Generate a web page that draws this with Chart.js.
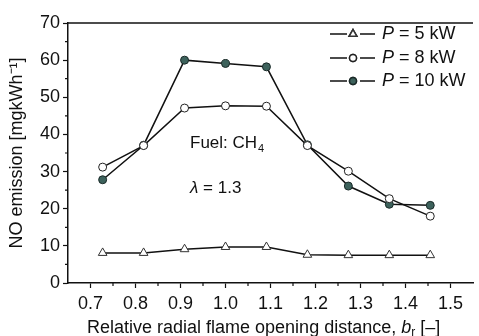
<!DOCTYPE html>
<html>
<head>
<meta charset="utf-8">
<script src="https://cdn.jsdelivr.net/npm/chart.js@4"></script>
<style>
  html, body { margin: 0; padding: 0; background: #fff; }
  #wrap { width: 479px; height: 336px; }
</style>
</head>
<body>
<div id="wrap"><canvas id="noChart"></canvas></div>
<script>
"use strict";

// Relative radial flame opening distance b_r (x values)
const radialDistance = [0.727, 0.818, 0.909, 1.0, 1.091, 1.182, 1.273, 1.364, 1.455];

// NO emission [mg/kWh] per burner power
const noP5 = [8.1, 8.1, 9.1, 9.7, 9.7, 7.6, 7.5, 7.5, 7.5];
const noP8 = [31.2, 37.0, 47.1, 47.7, 47.6, 37.0, 30.1, 22.7, 18.0];
const noP10 = [27.8, 37.1, 60.0, 59.1, 58.2, 37.2, 26.1, 21.2, 20.9];

const seriesLabels = ['5 kW', '8 kW', '10 kW'];
const xTicks = [0.7, 0.8, 0.9, 1.0, 1.1, 1.2, 1.3, 1.4, 1.5];
const xMinorTicks = [0.75, 0.85, 0.95, 1.05, 1.15, 1.25, 1.35, 1.45];
const yMinorTicks = [5, 15, 25, 35, 45, 55, 65];

const FONT = "'Liberation Sans', Arial, sans-serif";
const INK = '#111';
const TEAL = '#3d625c';

function toPoints(values) {
    return values.map(function (v, i) {
        return { x: radialDistance[i], y: v };
    });
}

// Legend, annotations, x title, minor ticks and the top frame line
const extrasPlugin = {
    id: 'extras',
    afterDraw(chart) {
        const ctx = chart.ctx;
        const area = chart.chartArea;
        const xs = chart.scales.x;
        const ys = chart.scales.y;
        ctx.save();

        // top frame line
        ctx.strokeStyle = INK;
        ctx.lineWidth = 1.5;
        ctx.beginPath();
        ctx.moveTo(area.left, area.top);
        ctx.lineTo(area.right, area.top);
        ctx.stroke();

        // minor ticks
        ctx.lineWidth = 1.2;
        ctx.beginPath();
        xMinorTicks.forEach(function (v) {
            const px = xs.getPixelForValue(v);
            ctx.moveTo(px, area.bottom);
            ctx.lineTo(px, area.bottom + 3);
        });
        yMinorTicks.forEach(function (v) {
            const py = ys.getPixelForValue(v);
            ctx.moveTo(area.left, py);
            ctx.lineTo(area.left - 3, py);
        });
        ctx.stroke();

        // legend
        const rows = [34, 58, 81];
        chart.data.datasets.forEach(function (ds, i) {
            const y = rows[i];
            ctx.strokeStyle = INK;
            ctx.lineWidth = 1.5;
            ctx.beginPath();
            ctx.moveTo(330, y);
            ctx.lineTo(347, y);
            ctx.moveTo(360, y);
            ctx.lineTo(375, y);
            ctx.stroke();
            Chart.helpers.drawPoint(ctx, {
                pointStyle: ds.pointStyle,
                radius: ds.pointStyle === 'triangle' ? 4.5 : 3.5,
                borderWidth: 1
            }, 353, y);
            ctx.fillStyle = ds.pointBackgroundColor;
            ctx.strokeStyle = ds.pointBorderColor;
            ctx.fill();
            ctx.stroke();

            ctx.fillStyle = INK;
            ctx.textBaseline = 'middle';
            ctx.font = 'italic 18px ' + FONT;
            ctx.fillText('P', 382, y);
            const pw = ctx.measureText('P').width;
            ctx.font = '18px ' + FONT;
            ctx.fillText(' = ' + seriesLabels[i], 382 + pw, y);
        });

        // annotations
        ctx.fillStyle = INK;
        ctx.textBaseline = 'middle';
        ctx.font = '17px ' + FONT;
        ctx.fillText('Fuel: CH', 190, 143);
        const fw = ctx.measureText('Fuel: CH').width;
        ctx.font = '11px ' + FONT;
        ctx.fillText('4', 190 + fw + 1, 149);
        ctx.font = 'italic 17px ' + FONT;
        ctx.fillText('λ', 190, 188);
        const lw = ctx.measureText('λ').width;
        ctx.font = '17px ' + FONT;
        ctx.fillText(' = 1.3', 190 + lw, 188);

        // x axis title
        let x = 87;
        const ty = 328;
        ctx.font = '18px ' + FONT;
        const part1 = 'Relative radial flame opening distance, ';
        ctx.fillText(part1, x, ty);
        x += ctx.measureText(part1).width;
        ctx.font = 'italic 18px ' + FONT;
        ctx.fillText('b', x, ty);
        x += ctx.measureText('b').width;
        ctx.font = '12px ' + FONT;
        ctx.fillText('r', x, ty + 5);
        x += ctx.measureText('r').width;
        ctx.font = '18px ' + FONT;
        ctx.fillText(' [–]', x, ty);

        ctx.restore();
    }
};

new Chart(document.getElementById('noChart'), {
    type: 'line',
    data: {
        datasets: [
            {
                label: 'P = ' + seriesLabels[0],
                data: toPoints(noP5),
                borderColor: INK,
                borderWidth: 1.5,
                pointStyle: 'triangle',
                pointRadius: 5,
                pointBorderWidth: 1,
                pointBackgroundColor: '#fff',
                pointBorderColor: '#333'
            },
            {
                label: 'P = ' + seriesLabels[1],
                data: toPoints(noP8),
                borderColor: INK,
                borderWidth: 1.5,
                pointStyle: 'circle',
                pointRadius: 4,
                pointBorderWidth: 1,
                pointBackgroundColor: '#fff',
                pointBorderColor: '#222'
            },
            {
                label: 'P = ' + seriesLabels[2],
                data: toPoints(noP10),
                borderColor: INK,
                borderWidth: 1.5,
                pointStyle: 'circle',
                pointRadius: 4,
                pointBorderWidth: 1,
                pointBackgroundColor: TEAL,
                pointBorderColor: '#1a2a28'
            }
        ]
    },
    plugins: [extrasPlugin],
    options: {
        responsive: true,
        maintainAspectRatio: false,
        animation: false,
        layout: { padding: { top: 23, right: 0, left: 0, bottom: 0 } },
        plugins: {
            legend: { display: false },
            tooltip: { enabled: false }
        },
        scales: {
            x: {
                type: 'linear',
                min: 0.65,
                max: 1.55,
                afterBuildTicks: function (scale) {
                    scale.ticks = xTicks.map(function (v) { return { value: v }; });
                },
                afterFit: function (scale) { scale.height = 53; },
                grid: { drawOnChartArea: false, tickLength: 5, color: INK, tickWidth: 1.2 },
                border: { color: INK, width: 1.5 },
                ticks: {
                    color: INK,
                    padding: 5,
                    maxRotation: 0,
                    font: { family: FONT, size: 18 },
                    callback: function (v) { return v.toFixed(1); }
                }
            },
            y: {
                min: 0,
                max: 70,
                afterFit: function (scale) { scale.width = 68; },
                grid: { drawOnChartArea: false, tickLength: 5, color: INK, tickWidth: 1.2 },
                border: { color: INK, width: 1.5 },
                ticks: {
                    stepSize: 10,
                    color: INK,
                    padding: 3,
                    font: { family: FONT, size: 18 }
                },
                title: {
                    display: true,
                    text: 'NO emission [mgkWh⁻¹]',
                    color: INK,
                    padding: { top: 6, bottom: 0 },
                    font: { family: FONT, size: 18 }
                }
            }
        }
    }
});
</script>
</body>
</html>
